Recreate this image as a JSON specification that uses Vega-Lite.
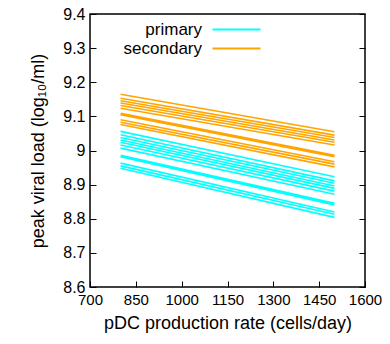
{
  "$schema": "https://vega.github.io/schema/vega-lite/v6.json",
  "width": 275,
  "height": 273,
  "autosize": {"type": "none"},
  "padding": {"left": 90, "top": 14, "right": 25, "bottom": 57},
  "background": "white",
  "config": {
    "view": {"stroke": "black", "strokeWidth": 1.5},
    "font": "Liberation Sans",
    "axis": {
      "grid": false,
      "domain": false,
      "tickColor": "black",
      "tickSize": -6,
      "tickWidth": 1,
      "labelFontSize": 16,
      "labelColor": "black",
      "labelOverlap": false,
      "labelFlush": false,
      "titleFontSize": 18,
      "titleFontWeight": "normal",
      "titleColor": "black"
    }
  },
  "data": {
    "values": [
      {"group": "secondary", "run": "s1", "kind": "run", "rate": 800, "load": 9.165},
      {"group": "secondary", "run": "s1", "kind": "run", "rate": 1500, "load": 9.055},
      {"group": "secondary", "run": "s2", "kind": "run", "rate": 800, "load": 9.153},
      {"group": "secondary", "run": "s2", "kind": "run", "rate": 1500, "load": 9.045},
      {"group": "secondary", "run": "s3", "kind": "run", "rate": 800, "load": 9.146},
      {"group": "secondary", "run": "s3", "kind": "run", "rate": 1500, "load": 9.038},
      {"group": "secondary", "run": "s4", "kind": "run", "rate": 800, "load": 9.139},
      {"group": "secondary", "run": "s4", "kind": "run", "rate": 1500, "load": 9.031},
      {"group": "secondary", "run": "s5", "kind": "run", "rate": 800, "load": 9.132},
      {"group": "secondary", "run": "s5", "kind": "run", "rate": 1500, "load": 9.024},
      {"group": "secondary", "run": "s6", "kind": "run", "rate": 800, "load": 9.124},
      {"group": "secondary", "run": "s6", "kind": "run", "rate": 1500, "load": 9.016},
      {"group": "secondary", "run": "smean", "kind": "mean", "rate": 800, "load": 9.107},
      {"group": "secondary", "run": "smean", "kind": "mean", "rate": 1500, "load": 8.984},
      {"group": "secondary", "run": "s7", "kind": "run", "rate": 800, "load": 9.090},
      {"group": "secondary", "run": "s7", "kind": "run", "rate": 1500, "load": 8.967},
      {"group": "secondary", "run": "s8", "kind": "run", "rate": 800, "load": 9.083},
      {"group": "secondary", "run": "s8", "kind": "run", "rate": 1500, "load": 8.960},
      {"group": "secondary", "run": "s9", "kind": "run", "rate": 800, "load": 9.076},
      {"group": "secondary", "run": "s9", "kind": "run", "rate": 1500, "load": 8.952},
      {"group": "primary", "run": "p1", "kind": "run", "rate": 800, "load": 9.056},
      {"group": "primary", "run": "p1", "kind": "run", "rate": 1500, "load": 8.923},
      {"group": "primary", "run": "p2", "kind": "run", "rate": 800, "load": 9.046},
      {"group": "primary", "run": "p2", "kind": "run", "rate": 1500, "load": 8.911},
      {"group": "primary", "run": "p3", "kind": "run", "rate": 800, "load": 9.038},
      {"group": "primary", "run": "p3", "kind": "run", "rate": 1500, "load": 8.904},
      {"group": "primary", "run": "p4", "kind": "run", "rate": 800, "load": 9.031},
      {"group": "primary", "run": "p4", "kind": "run", "rate": 1500, "load": 8.896},
      {"group": "primary", "run": "p5", "kind": "run", "rate": 800, "load": 9.024},
      {"group": "primary", "run": "p5", "kind": "run", "rate": 1500, "load": 8.889},
      {"group": "primary", "run": "p6", "kind": "run", "rate": 800, "load": 9.016},
      {"group": "primary", "run": "p6", "kind": "run", "rate": 1500, "load": 8.881},
      {"group": "primary", "run": "p7", "kind": "run", "rate": 800, "load": 9.007},
      {"group": "primary", "run": "p7", "kind": "run", "rate": 1500, "load": 8.872},
      {"group": "primary", "run": "pmean", "kind": "mean", "rate": 800, "load": 8.984},
      {"group": "primary", "run": "pmean", "kind": "mean", "rate": 1500, "load": 8.843},
      {"group": "primary", "run": "p8", "kind": "run", "rate": 800, "load": 8.963},
      {"group": "primary", "run": "p8", "kind": "run", "rate": 1500, "load": 8.820},
      {"group": "primary", "run": "p9", "kind": "run", "rate": 800, "load": 8.955},
      {"group": "primary", "run": "p9", "kind": "run", "rate": 1500, "load": 8.813},
      {"group": "primary", "run": "p10", "kind": "run", "rate": 800, "load": 8.948},
      {"group": "primary", "run": "p10", "kind": "run", "rate": 1500, "load": 8.804}
    ]
  },
  "layer": [
    {
      "mark": {"type": "line"},
      "encoding": {
        "x": {
          "field": "rate",
          "type": "quantitative",
          "scale": {"domain": [700, 1600], "nice": false, "zero": false},
          "axis": {
            "values": [700, 850, 1000, 1150, 1300, 1450, 1600],
            "format": "d",
            "labelFontSize": 15,
            "title": "pDC production rate (cells/day)",
            "labelPadding": 11,
            "titlePadding": 7
          }
        },
        "y": {
          "field": "load",
          "type": "quantitative",
          "scale": {"domain": [8.6, 9.4], "nice": false, "zero": false},
          "axis": {
            "values": [8.6, 8.7, 8.8, 8.9, 9.0, 9.1, 9.2, 9.3, 9.4],
            "format": ".1~f",
            "title": "peak viral load (log₁₀/ml)",
            "labelPadding": 11,
            "titlePadding": 15
          }
        },
        "color": {
          "field": "group",
          "type": "nominal",
          "scale": {"domain": ["primary", "secondary"], "range": ["#00ffff", "#ffa500"]},
          "legend": {
            "title": null,
            "orient": "none",
            "legendX": 138,
            "legendY": 7,
            "padding": 0,
            "symbolType": "M-4,0L4,0",
            "symbolSize": 144,
            "symbolStrokeWidth": 2,
            "labelAlign": "right",
            "labelOffset": -43,
            "labelFontSize": 17,
            "labelColor": "black",
            "rowPadding": 1
          }
        },
        "strokeWidth": {
          "field": "kind",
          "type": "nominal",
          "scale": {"domain": ["run", "mean"], "range": [1.6, 3.2]},
          "legend": null
        },
        "detail": {"field": "run"}
      }
    },
    {
      "mark": {"type": "line", "opacity": 0},
      "encoding": {
        "x": {"field": "rate", "type": "quantitative", "axis": null},
        "y": {
          "field": "load",
          "type": "quantitative",
          "axis": {
            "orient": "right",
            "labels": false,
            "title": null,
            "values": [8.6, 8.7, 8.8, 8.9, 9.0, 9.1, 9.2, 9.3, 9.4]
          }
        },
        "detail": {"field": "run"}
      }
    }
  ],
  "resolve": {"axis": {"x": "independent", "y": "independent"}}
}
